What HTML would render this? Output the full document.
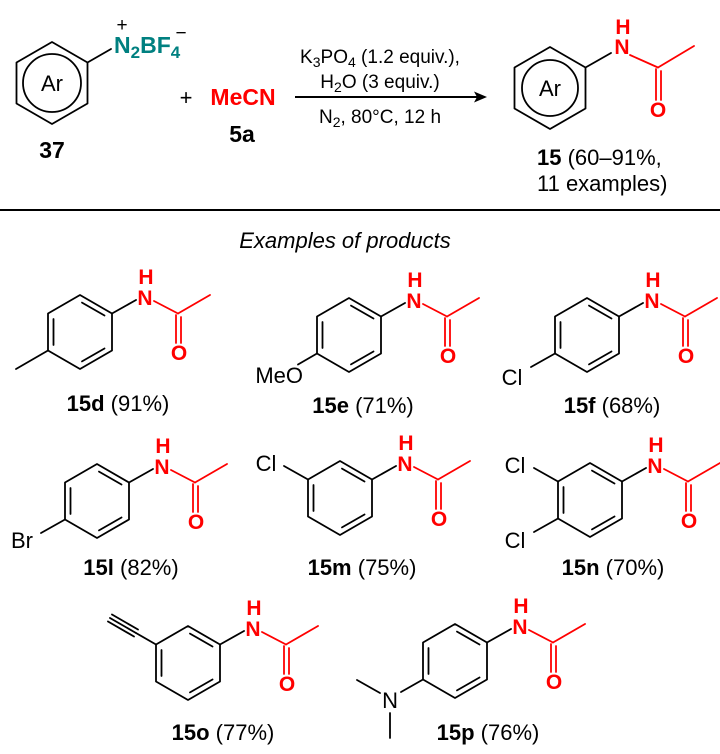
<!DOCTYPE html>
<html><head><meta charset="utf-8"><style>
html,body{margin:0;padding:0;background:#fff;}
svg{display:block;font-family:"Liberation Sans",Arial,sans-serif;}
.b{fill:none;stroke:#000;stroke-width:1.8;stroke-linecap:round;stroke-linejoin:round}
.r{fill:none;stroke:#f00;stroke-width:1.8;stroke-linecap:round}
.at{fill:#f00;font-weight:bold;font-size:21px;text-anchor:middle}
.lb{font-size:22px;text-anchor:middle}
.sb{font-size:22px;text-anchor:middle}
.sub{font-size:22px}
</style></head><body>
<svg width="720" height="754" viewBox="0 0 720 754">
<!-- Top scheme -->
<g transform="translate(52,83)">
<path class="b" d="M0,-41 L35.5,-20.5 L35.5,20.5 L0,41 L-35.5,20.5 L-35.5,-20.5 Z"/>
<circle class="b" cx="0" cy="0" r="29"/>
<text x="0" y="8" class="lb">Ar</text>
<line class="b" x1="35.5" y1="-20.5" x2="59" y2="-34"/>
</g>
<text x="114" y="53" fill="#008080" font-weight="bold" font-size="23">N<tspan font-size="17" dy="5">2</tspan><tspan dy="-5">BF</tspan><tspan font-size="17" dy="5">4</tspan></text>
<text x="122" y="31" font-size="19" text-anchor="middle">+</text>
<text x="181" y="39" font-size="19" text-anchor="middle">−</text>
<text x="52" y="158" font-weight="bold" font-size="23" text-anchor="middle">37</text>
<text x="186" y="105" font-size="22" text-anchor="middle">+</text>
<text x="243" y="105" fill="#f00" font-weight="bold" font-size="23" text-anchor="middle">MeCN</text>
<text x="242" y="142" font-weight="bold" font-size="23" text-anchor="middle">5a</text>
<line x1="295" y1="97" x2="478" y2="97" stroke="#000" stroke-width="2"/>
<path d="M487,97 L474,91.5 L477,97 L474,102.5 Z" fill="#000"/>
<text x="380" y="63" font-size="19" text-anchor="middle">K<tspan font-size="14" dy="4">3</tspan><tspan dy="-4">PO</tspan><tspan font-size="14" dy="4">4</tspan><tspan dy="-4"> (1.2 equiv.),</tspan></text>
<text x="380" y="88" font-size="19" text-anchor="middle">H<tspan font-size="14" dy="4">2</tspan><tspan dy="-4">O (3 equiv.)</tspan></text>
<text x="380" y="123" font-size="19" text-anchor="middle">N<tspan font-size="14" dy="4">2</tspan><tspan dy="-4">, 80°C, 12 h</tspan></text>
<g transform="translate(550,88)">
<path class="b" d="M0,-41 L35.5,-20.5 L35.5,20.5 L0,41 L-35.5,20.5 L-35.5,-20.5 Z"/>
<circle class="b" cx="0" cy="0" r="28"/>
<text x="0" y="8" class="lb">Ar</text>
<line class="b" x1="35.5" y1="-20.5" x2="61" y2="-35"/>
<line class="r" x1="80" y1="-33" x2="108" y2="-20.5"/>
<line class="r" x1="108" y1="-20.5" x2="144" y2="-42"/>
<line class="r" x1="106" y1="-19" x2="106" y2="12"/>
<line class="r" x1="111" y1="-17" x2="111" y2="12"/>
<text x="72" y="-34" class="at">N</text>
<text x="73" y="-54" class="at">H</text>
<text x="108" y="29" class="at">O</text>
</g>
<text x="537" y="165" font-size="22"><tspan font-weight="bold">15</tspan> (60–91%,</text>
<text x="537" y="191" font-size="22">11 examples)</text>
<line x1="0" y1="210" x2="720" y2="210" stroke="#000" stroke-width="2"/>
<text x="345" y="248" font-size="22" font-style="italic" text-anchor="middle">Examples of products</text>

<!-- 15d -->
<g transform="translate(80,332)">
<path class="b" d="M0,-37 L32,-18.5 L32,18.5 L0,37 L-32,18.5 L-32,-18.5 Z M-26.5,-13 L-26.5,13 M2,-29.4 L24.5,-16.5 M24.5,16.5 L2,29.4"/>
<line class="b" x1="32" y1="-18.5" x2="56" y2="-32"/>
<line class="r" x1="74" y1="-31" x2="98" y2="-18.5"/><line class="r" x1="98" y1="-18.5" x2="130" y2="-37"/>
<line class="r" x1="96" y1="-17" x2="96" y2="11"/><line class="r" x1="101" y1="-15" x2="101" y2="11"/>
<text x="65" y="-27" class="at">N</text><text x="66" y="-48" class="at">H</text><text x="99" y="28" class="at">O</text>
<line class="b" x1="-32" y1="18.5" x2="-64" y2="37"/>
</g>
<text x="118" y="411" class="sb"><tspan font-weight="bold">15d</tspan> (91%)</text>

<!-- 15e -->
<g transform="translate(349,335)">
<path class="b" d="M0,-37 L32,-18.5 L32,18.5 L0,37 L-32,18.5 L-32,-18.5 Z M-26.5,-13 L-26.5,13 M2,-29.4 L24.5,-16.5 M24.5,16.5 L2,29.4"/>
<line class="b" x1="32" y1="-18.5" x2="56" y2="-32"/>
<line class="r" x1="74" y1="-31" x2="98" y2="-18.5"/><line class="r" x1="98" y1="-18.5" x2="130" y2="-37"/>
<line class="r" x1="96" y1="-17" x2="96" y2="11"/><line class="r" x1="101" y1="-15" x2="101" y2="11"/>
<text x="65" y="-27" class="at">N</text><text x="66" y="-48" class="at">H</text><text x="99" y="28" class="at">O</text>
<line class="b" x1="-32" y1="18.5" x2="-51" y2="29.5"/>
<text x="-46" y="48" class="sub" text-anchor="end">MeO</text>
</g>
<text x="363" y="413" class="sb"><tspan font-weight="bold">15e</tspan> (71%)</text>

<!-- 15f -->
<g transform="translate(587,335)">
<path class="b" d="M0,-37 L32,-18.5 L32,18.5 L0,37 L-32,18.5 L-32,-18.5 Z M-26.5,-13 L-26.5,13 M2,-29.4 L24.5,-16.5 M24.5,16.5 L2,29.4"/>
<line class="b" x1="32" y1="-18.5" x2="56" y2="-32"/>
<line class="r" x1="74" y1="-31" x2="98" y2="-18.5"/><line class="r" x1="98" y1="-18.5" x2="130" y2="-37"/>
<line class="r" x1="96" y1="-17" x2="96" y2="11"/><line class="r" x1="101" y1="-15" x2="101" y2="11"/>
<text x="65" y="-27" class="at">N</text><text x="66" y="-48" class="at">H</text><text x="99" y="28" class="at">O</text>
<line class="b" x1="-32" y1="18.5" x2="-56" y2="32"/>
<text x="-75" y="50" class="sub" text-anchor="middle">Cl</text>
</g>
<text x="612" y="413" class="sb"><tspan font-weight="bold">15f</tspan> (68%)</text>

<!-- 15l -->
<g transform="translate(97,501)">
<path class="b" d="M0,-37 L32,-18.5 L32,18.5 L0,37 L-32,18.5 L-32,-18.5 Z M-26.5,-13 L-26.5,13 M2,-29.4 L24.5,-16.5 M24.5,16.5 L2,29.4"/>
<line class="b" x1="32" y1="-18.5" x2="56" y2="-32"/>
<line class="r" x1="74" y1="-31" x2="98" y2="-18.5"/><line class="r" x1="98" y1="-18.5" x2="130" y2="-37"/>
<line class="r" x1="96" y1="-17" x2="96" y2="11"/><line class="r" x1="101" y1="-15" x2="101" y2="11"/>
<text x="65" y="-27" class="at">N</text><text x="66" y="-48" class="at">H</text><text x="99" y="28" class="at">O</text>
<line class="b" x1="-32" y1="18.5" x2="-56" y2="32"/>
<text x="-75" y="47" class="sub" text-anchor="middle">Br</text>
</g>
<text x="131" y="575" class="sb"><tspan font-weight="bold">15l</tspan> (82%)</text>

<!-- 15m -->
<g transform="translate(340,498)">
<path class="b" d="M0,-37 L32,-18.5 L32,18.5 L0,37 L-32,18.5 L-32,-18.5 Z M-26.5,-13 L-26.5,13 M2,-29.4 L24.5,-16.5 M24.5,16.5 L2,29.4"/>
<line class="b" x1="32" y1="-18.5" x2="56" y2="-32"/>
<line class="r" x1="74" y1="-31" x2="98" y2="-18.5"/><line class="r" x1="98" y1="-18.5" x2="130" y2="-37"/>
<line class="r" x1="96" y1="-17" x2="96" y2="11"/><line class="r" x1="101" y1="-15" x2="101" y2="11"/>
<text x="65" y="-27" class="at">N</text><text x="66" y="-48" class="at">H</text><text x="99" y="28" class="at">O</text>
<line class="b" x1="-32" y1="-18.5" x2="-56" y2="-32"/>
<text x="-74" y="-27" class="sub" text-anchor="middle">Cl</text>
</g>
<text x="362" y="575" class="sb"><tspan font-weight="bold">15m</tspan> (75%)</text>

<!-- 15n -->
<g transform="translate(590,500)">
<path class="b" d="M0,-37 L32,-18.5 L32,18.5 L0,37 L-32,18.5 L-32,-18.5 Z M-26.5,-13 L-26.5,13 M2,-29.4 L24.5,-16.5 M24.5,16.5 L2,29.4"/>
<line class="b" x1="32" y1="-18.5" x2="56" y2="-32"/>
<line class="r" x1="74" y1="-31" x2="98" y2="-18.5"/><line class="r" x1="98" y1="-18.5" x2="130" y2="-37"/>
<line class="r" x1="96" y1="-17" x2="96" y2="11"/><line class="r" x1="101" y1="-15" x2="101" y2="11"/>
<text x="65" y="-27" class="at">N</text><text x="66" y="-48" class="at">H</text><text x="99" y="28" class="at">O</text>
<line class="b" x1="-32" y1="-18.5" x2="-56" y2="-32"/>
<line class="b" x1="-32" y1="18.5" x2="-56" y2="32"/>
<text x="-75" y="-27" class="sub" text-anchor="middle">Cl</text>
<text x="-75" y="48" class="sub" text-anchor="middle">Cl</text>
</g>
<text x="613" y="575" class="sb"><tspan font-weight="bold">15n</tspan> (70%)</text>

<!-- 15o -->
<g transform="translate(188,663)">
<path class="b" d="M0,-37 L32,-18.5 L32,18.5 L0,37 L-32,18.5 L-32,-18.5 Z M-26.5,-13 L-26.5,13 M2,-29.4 L24.5,-16.5 M24.5,16.5 L2,29.4"/>
<line class="b" x1="32" y1="-18.5" x2="56" y2="-32"/>
<line class="r" x1="74" y1="-31" x2="98" y2="-18.5"/><line class="r" x1="98" y1="-18.5" x2="130" y2="-37"/>
<line class="r" x1="96" y1="-17" x2="96" y2="11"/><line class="r" x1="101" y1="-15" x2="101" y2="11"/>
<text x="65" y="-27" class="at">N</text><text x="66" y="-48" class="at">H</text><text x="99" y="28" class="at">O</text>
<line class="b" x1="-32" y1="-18.5" x2="-52" y2="-30"/>
<line class="b" x1="-52" y1="-30" x2="-78" y2="-45"/>
<line class="b" x1="-50" y1="-33.5" x2="-76" y2="-48.5"/>
<line class="b" x1="-54" y1="-26.5" x2="-80" y2="-41.5"/>
</g>
<text x="223" y="740" class="sb"><tspan font-weight="bold">15o</tspan> (77%)</text>

<!-- 15p -->
<g transform="translate(455,661)">
<path class="b" d="M0,-37 L32,-18.5 L32,18.5 L0,37 L-32,18.5 L-32,-18.5 Z M-26.5,-13 L-26.5,13 M2,-29.4 L24.5,-16.5 M24.5,16.5 L2,29.4"/>
<line class="b" x1="32" y1="-18.5" x2="56" y2="-32"/>
<line class="r" x1="74" y1="-31" x2="98" y2="-18.5"/><line class="r" x1="98" y1="-18.5" x2="130" y2="-37"/>
<line class="r" x1="96" y1="-17" x2="96" y2="11"/><line class="r" x1="101" y1="-15" x2="101" y2="11"/>
<text x="65" y="-27" class="at">N</text><text x="66" y="-48" class="at">H</text><text x="99" y="28" class="at">O</text>
<line class="b" x1="-32" y1="18.5" x2="-54" y2="31"/>
<text x="-65" y="47" class="sub" text-anchor="middle">N</text>
<line class="b" x1="-75" y1="32" x2="-98" y2="19"/>
<line class="b" x1="-65" y1="52" x2="-65" y2="77"/>
</g>
<text x="488" y="740" class="sb"><tspan font-weight="bold">15p</tspan> (76%)</text>
</svg>
</body></html>
